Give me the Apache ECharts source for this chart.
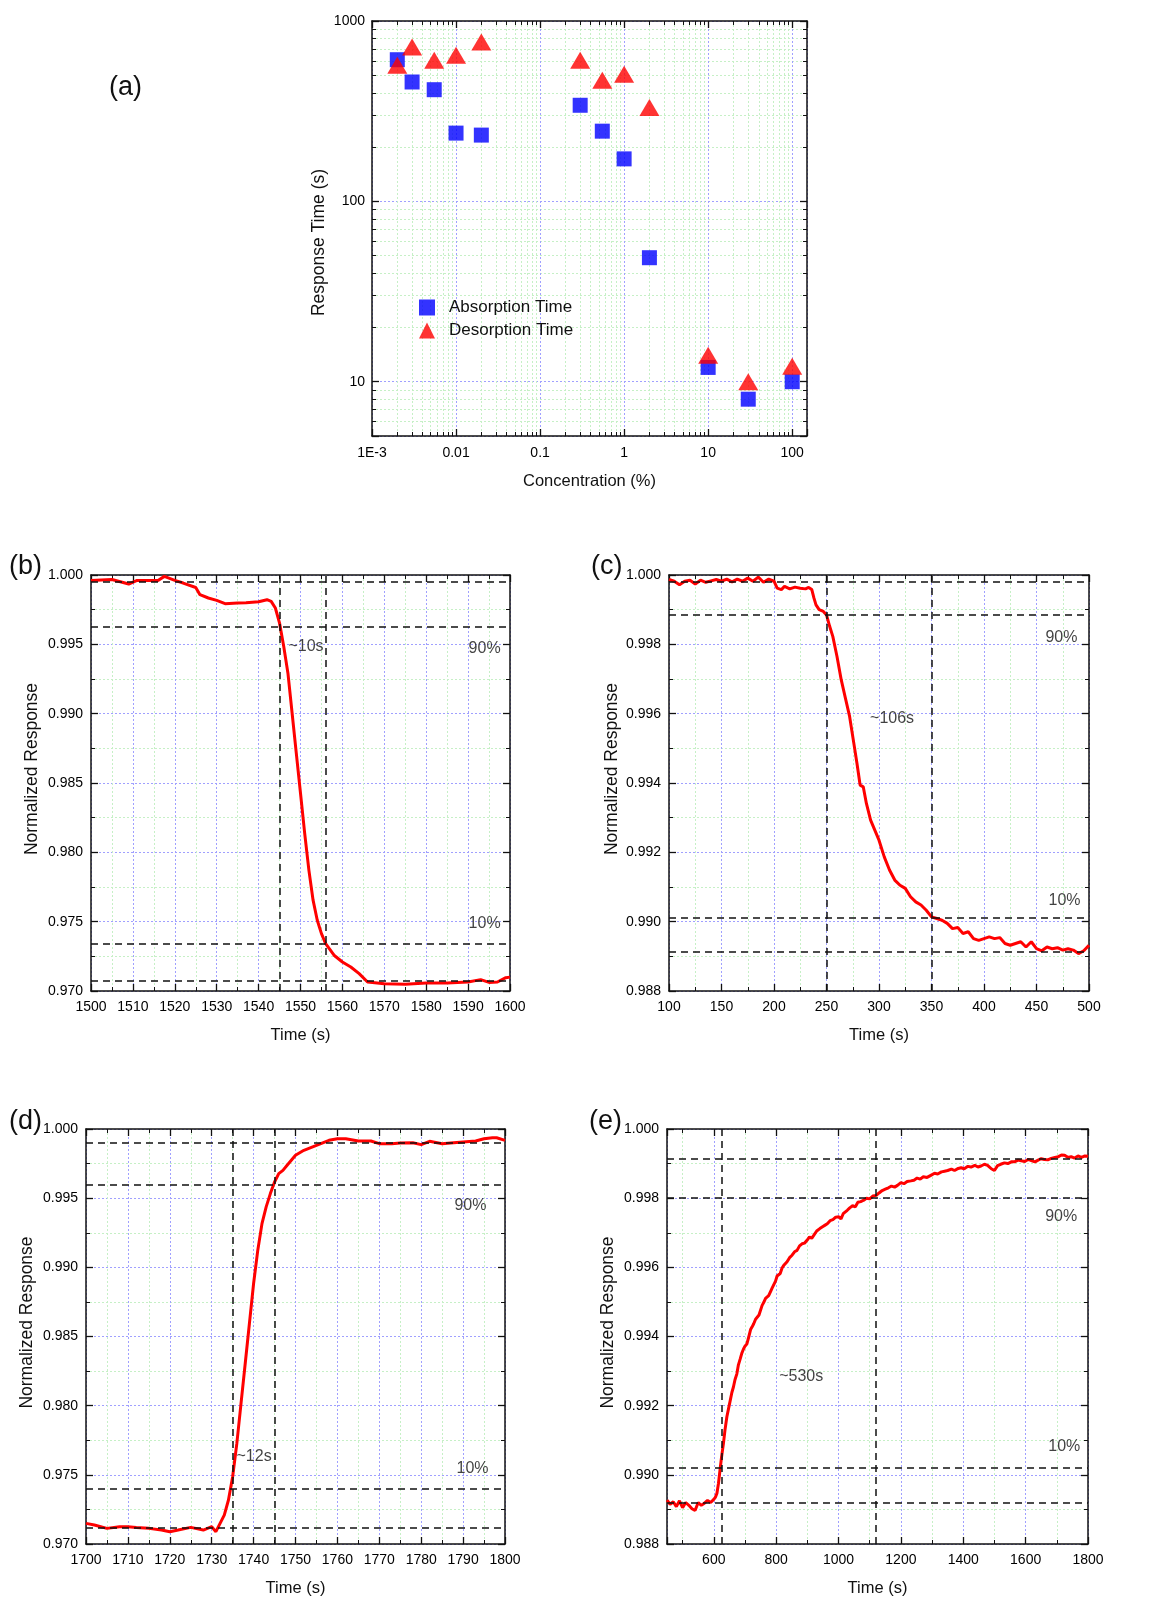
<!DOCTYPE html>
<html><head><meta charset="utf-8">
<script src="https://cdn.jsdelivr.net/npm/echarts@6/dist/echarts.min.js"></script>
<style>html,body{margin:0;padding:0;background:#fff}#c{width:1158px;height:1599px}</style>
</head><body><div id="c"></div>
<script>
// ---------- Panel (a) data ----------
const concX = [0.002, 0.003, 0.0055, 0.01, 0.02, 0.3, 0.55, 1, 2, 10, 30, 100];
const absorptionTime = [610, 459, 416, 239, 233, 341, 245, 172, 48.7, 12, 8, 10];
const desorptionTime = [568, 717, 605, 645, 765, 605, 469, 506, 331, 14, 10, 12.2];
const aXDecades = [-3, -2, -1, 0, 1, 2];
const aXLabels = ['1E-3', '0.01', '0.1', '1', '10', '100'];
const aYDecades = [1, 2, 3];
const aYLabels = ['10', '100', '1000'];

// ---------- Panel (b) data ----------
const bTime = [1500,1505,1509,1511,1516,1517.5,1520,1522,1525,1526,1528,1530,1532,1535,1537,1540,1542,1543,1544,1545,1546,1547,1548,1549,1550,1551,1552,1553,1554,1555,1556,1558,1560,1562,1564,1566,1570,1575,1580,1585,1590,1593,1595,1597,1599,1600];
const bResp = [0.99961,0.99968,0.99935,0.99961,0.99961,0.9999,0.99961,0.99942,0.9991,0.99858,0.99834,0.99817,0.99793,0.99798,0.998,0.99807,0.99822,0.9981,0.99762,0.99653,0.99485,0.99292,0.99003,0.98714,0.98426,0.98137,0.97872,0.97655,0.9751,0.97414,0.97342,0.97258,0.97209,0.97173,0.97125,0.97065,0.97053,0.97048,0.97058,0.97058,0.97065,0.97082,0.97062,0.97065,0.97096,0.971];
const bHLines = [0.99952, 0.99629, 0.97342, 0.97077];
const bVLines = [1545, 1556];
const bNotes = [['~10s', 1547, 0.99485], ['90%', 1590, 0.9947], ['10%', 1590, 0.97486]];

// ---------- Panel (c) data ----------
const cTime = [100,105,110,115,120,125,130,135,140,145,150,155,160,165,170,175,180,185,190,195,200,203,207,210,215,220,225,230,233,236,238,240,243,247,250,253,256,260,264,268,272,276,279,282,285,288,292,296,300,305,310,315,320,325,330,335,340,345,350,355,360,365,370,375,380,385,390,395,400,405,410,415,420,425,430,435,440,445,450,455,460,465,470,475,480,485,490,495,500];
const cResp = [0.99987,0.99982,0.99972,0.99982,0.99985,0.99974,0.99985,0.99979,0.99983,0.99987,0.99982,0.99988,0.9998,0.99988,0.99982,0.99991,0.99982,0.99994,0.99979,0.99988,0.99982,0.99962,0.99958,0.99967,0.9996,0.99965,0.99962,0.9996,0.99964,0.99958,0.99934,0.99914,0.999,0.99895,0.99885,0.99852,0.99823,0.99765,0.99698,0.99645,0.99592,0.99515,0.99457,0.99394,0.99389,0.99341,0.99293,0.99264,0.99235,0.99187,0.99149,0.9912,0.99105,0.99096,0.99072,0.99057,0.99048,0.99033,0.99014,0.99009,0.99004,0.98995,0.9898,0.98983,0.98966,0.98971,0.98951,0.98946,0.98951,0.98956,0.98951,0.98954,0.98937,0.98932,0.98937,0.98942,0.98927,0.98942,0.98922,0.98916,0.98927,0.98922,0.98925,0.98918,0.98922,0.98918,0.98908,0.98916,0.98932];
const cHLines = [0.99981, 0.99884, 0.99011, 0.98912];
const cVLines = [250, 350];
const cNotes = [['~106s', 291, 0.99587], ['90%', 458, 0.99818], ['10%', 461, 0.99062]];

// ---------- Panel (d) data ----------
const dTime = [1700,1702,1705,1708,1710,1712,1715,1718,1720,1722,1725,1728,1730,1731,1732,1733,1734,1735,1736,1737,1738,1739,1740,1741,1742,1743,1744,1745,1746,1747,1748,1749,1750,1752,1755,1758,1760,1762,1765,1768,1770,1773,1775,1778,1780,1782,1785,1787,1790,1793,1795,1797,1798,1800];
const dResp = [0.97149,0.97137,0.97113,0.97125,0.97125,0.9712,0.97113,0.97101,0.97089,0.97101,0.9712,0.97101,0.97125,0.97089,0.97149,0.97209,0.97318,0.97486,0.97727,0.98016,0.98305,0.98594,0.98883,0.99124,0.99316,0.99437,0.99533,0.99617,0.99677,0.99701,0.99738,0.99774,0.9981,0.99846,0.99882,0.99918,0.9993,0.9993,0.99913,0.99913,0.99894,0.99894,0.99899,0.99901,0.99887,0.99911,0.99894,0.99899,0.99906,0.99913,0.9993,0.99937,0.99937,0.99918];
const dHLines = [0.99901, 0.99595, 0.97402, 0.97118];
const dVLines = [1735, 1745];
const dNotes = [['~12s', 1735.8, 0.97631], ['90%', 1787.8, 0.99449], ['10%', 1788.3, 0.97546]];

// ---------- Panel (e) data ----------
const eTime = [450,460,470,480,490,500,510,520,530,540,550,560,570,580,590,600,605,610,615,620,625,631,636,642,647,653,658,663,668,674,679,685,690,695,700,706,712,718,723,728,734,740,745,749,755,760,766,771,776,782,787,792,798,803,808,813,819,824,830,835,843,851,859,867,875,883,891,899,907,914,921,930,940,950,957,964,973,982,991,1001,1008,1015,1021,1028,1036,1045,1054,1062,1071,1081,1090,1100,1110,1121,1130,1140,1150,1160,1170,1180,1189,1200,1210,1220,1232,1242,1252,1262,1272,1284,1296,1308,1318,1330,1340,1350,1362,1372,1384,1393,1403,1415,1425,1437,1447,1457,1468,1478,1490,1500,1510,1520,1532,1543,1554,1564,1576,1586,1597,1608,1618,1630,1640,1650,1660,1671,1682,1694,1705,1715,1725,1735,1746,1757,1768,1779,1790,1800];
const eResp = [0.98927,0.98915,0.98922,0.98908,0.98925,0.98905,0.9892,0.98912,0.98902,0.98897,0.9892,0.98912,0.98918,0.98926,0.9892,0.98929,0.98935,0.98946,0.98975,0.99014,0.99052,0.99091,0.9913,0.99168,0.9919,0.99216,0.99238,0.99254,0.99275,0.99292,0.99318,0.99336,0.99352,0.99363,0.99372,0.99378,0.99398,0.9942,0.99428,0.99437,0.9945,0.99448,0.99462,0.99466,0.9949,0.99498,0.9951,0.99514,0.99518,0.9953,0.9954,0.99543,0.9956,0.99575,0.9957,0.99582,0.99598,0.99605,0.9961,0.99616,0.99628,0.99635,0.99645,0.99649,0.99662,0.99668,0.9967,0.99678,0.99688,0.99684,0.99693,0.99705,0.99712,0.99718,0.99722,0.99726,0.99735,0.99738,0.99745,0.99746,0.9974,0.99755,0.9976,0.99765,0.99772,0.99778,0.99775,0.99788,0.9979,0.99794,0.998,0.99798,0.99806,0.99808,0.99815,0.99822,0.99826,0.9983,0.99835,0.99832,0.99837,0.99845,0.99842,0.99848,0.9985,0.99852,0.99858,0.99855,0.99862,0.9986,0.99866,0.99872,0.9987,0.99876,0.99878,0.9988,0.99884,0.9988,0.99886,0.99888,0.99885,0.99892,0.9989,0.99895,0.9989,0.99893,0.99898,0.99895,0.99885,0.9988,0.99894,0.99898,0.99902,0.999,0.99905,0.99905,0.9991,0.99908,0.99906,0.99912,0.99909,0.99905,0.9991,0.99914,0.99912,0.99911,0.99915,0.99918,0.9992,0.99925,0.99924,0.99918,0.9992,0.99916,0.99922,0.99918,0.99922,0.99921];
const eHLines = [0.99914, 0.99802, 0.99021, 0.98919];
const eVLines = [625, 1120];
const eNotes = [['~530s', 808, 0.99283], ['90%', 1661, 0.99746], ['10%', 1671, 0.99083]];

// ---------- build ----------
const FONT = '"Liberation Sans", Arial, sans-serif';
const INK = '#111';
const zip = (a, b) => a.map((v, i) => [v, b[i]]);

const grids = [
  {left: 372, top: 21, width: 435, height: 415},
  {left: 91, top: 575, width: 419, height: 416},
  {left: 669, top: 575, width: 420, height: 416},
  {left: 86, top: 1129, width: 419, height: 415},
  {left: 667, top: 1129, width: 421, height: 415}
];

const xAxes = [], yAxes = [], series = [];

function baseAxis(extra) {
  return Object.assign({
    axisLine: {show: true, onZero: false, lineStyle: {color: INK, width: 1.5}},
    axisTick: {show: true, inside: true, length: 7, lineStyle: {color: INK, width: 1.3}},
    minorTick: {show: true, length: 4, lineStyle: {color: INK, width: 1}},
    axisLabel: {show: false},
    splitLine: {show: false},
    minorSplitLine: {show: false}
  }, extra);
}
const majorGrid = {show: true, lineStyle: {color: '#a0a0ff', type: [2, 2], width: 1}};
const minorGrid = {show: true, lineStyle: {color: '#c6f0c6', type: [2, 2], width: 1}};
const xNameStyle = {fontSize: 16.5, color: INK, fontFamily: FONT};
const yNameStyle = {fontSize: 17.5, color: INK, fontFamily: FONT, padding: [0, 0, 0, 28]};
const yNameStyleA = {fontSize: 17.5, color: INK, fontFamily: FONT, padding: [0, 28, 0, 0]};
const tickText = {fontSize: 14, color: '#000', fontFamily: FONT};

// Panel (a)
function decadeLabel(v, decs, labels) {
  const l = Math.log10(v), e = Math.round(l);
  if (Math.abs(l - e) > 1e-6) return '';
  const i = decs.indexOf(e);
  return i >= 0 ? labels[i] : '';
}
const logMinor = {show: true, splitNumber: 9, length: 4, lineStyle: {color: INK, width: 1}};
xAxes.push(baseAxis({
  gridIndex: 0, type: 'log', logBase: 10, min: 0.001, max: 150, position: 'bottom',
  minorTick: logMinor,
  name: 'Concentration (%)', nameLocation: 'middle', nameGap: 37, nameTextStyle: xNameStyle,
  axisLabel: Object.assign({show: true, margin: 10,
    formatter: v => decadeLabel(v, aXDecades, aXLabels)}, tickText),
  splitLine: majorGrid, minorSplitLine: minorGrid
}));
xAxes.push(baseAxis({gridIndex: 0, type: 'log', logBase: 10, min: 0.001, max: 150, position: 'top', minorTick: logMinor}));
yAxes.push(baseAxis({
  gridIndex: 0, type: 'log', logBase: 10, min: 5, max: 1000, position: 'left',
  minorTick: logMinor,
  name: 'Response Time (s)', nameLocation: 'middle', nameGap: 44, nameTextStyle: yNameStyleA,
  axisLabel: Object.assign({show: true, margin: 7,
    formatter: v => decadeLabel(v, aYDecades, aYLabels)}, tickText),
  splitLine: majorGrid, minorSplitLine: minorGrid
}));
yAxes.push(baseAxis({gridIndex: 0, type: 'log', logBase: 10, min: 5, max: 1000, position: 'right', minorTick: logMinor}));

series.push({
  name: 'Absorption Time', type: 'scatter', xAxisIndex: 0, yAxisIndex: 0,
  symbol: 'rect', symbolSize: 15, itemStyle: {color: '#0000ff'},
  data: zip(concX, absorptionTime), z: 3
});
series.push({
  name: 'Desorption Time', type: 'scatter', xAxisIndex: 0, yAxisIndex: 0,
  symbol: 'triangle', symbolSize: [20, 17], itemStyle: {color: '#ff0000'},
  data: zip(concX, desorptionTime), z: 4
});

// Linear panels
const panels = [
  {t: bTime, r: bResp, h: bHLines, v: bVLines, notes: bNotes, xmin: 1500, xmax: 1600, xint: 10, ymin: 0.970, ymax: 1.000, yint: 0.005, gap: 50},
  {t: cTime, r: cResp, h: cHLines, v: cVLines, notes: cNotes, xmin: 100, xmax: 500, xint: 50, ymin: 0.988, ymax: 1.000, yint: 0.002, gap: 48},
  {t: dTime, r: dResp, h: dHLines, v: dVLines, notes: dNotes, xmin: 1700, xmax: 1800, xint: 10, ymin: 0.970, ymax: 1.000, yint: 0.005, gap: 50},
  {t: eTime, r: eResp, h: eHLines, v: eVLines, notes: eNotes, xmin: 450, xmax: 1800, xint: 200, ymin: 0.988, ymax: 1.000, yint: 0.002, gap: 50, niceX: true}
];

panels.forEach((p, k) => {
  const g = k + 1;
  const xr = p.niceX
    ? {min: p.xmin, max: p.xmax, minInterval: p.xint, maxInterval: p.xint, splitNumber: 7}
    : {min: p.xmin, max: p.xmax, interval: p.xint};
  const yr = {min: p.ymin, max: p.ymax, interval: p.yint};
  const linMinor = {show: true, splitNumber: 2, length: 4, lineStyle: {color: INK, width: 1}};
  xAxes.push(baseAxis(Object.assign({
    gridIndex: g, type: 'value', position: 'bottom', minorTick: linMinor,
    name: 'Time (s)', nameLocation: 'middle', nameGap: 36, nameTextStyle: xNameStyle,
    axisLabel: Object.assign({show: true, margin: 9,
      showMinLabel: !p.niceX, formatter: v => String(Math.round(v))}, tickText),
    splitLine: majorGrid, minorSplitLine: minorGrid
  }, xr)));
  xAxes.push(baseAxis(Object.assign({gridIndex: g, type: 'value', position: 'top', minorTick: linMinor}, xr)));
  yAxes.push(baseAxis(Object.assign({
    gridIndex: g, type: 'value', position: 'left', minorTick: linMinor,
    name: 'Normalized Response', nameLocation: 'middle', nameGap: p.gap, nameTextStyle: yNameStyle,
    axisLabel: Object.assign({show: true, margin: 8, formatter: v => v.toFixed(3)}, tickText),
    splitLine: majorGrid, minorSplitLine: minorGrid
  }, yr)));
  yAxes.push(baseAxis(Object.assign({gridIndex: g, type: 'value', position: 'right', minorTick: linMinor}, yr)));

  const xi = 2 * g, yi = 2 * g;
  series.push({
    name: 'curve' + g, type: 'line', xAxisIndex: xi, yAxisIndex: yi,
    data: zip(p.t, p.r), showSymbol: false, symbol: 'none',
    lineStyle: {color: '#ff0000', width: 3}, z: 3, silent: true,
    markLine: {
      silent: true, symbol: 'none', precision: 6, label: {show: false},
      lineStyle: {color: '#111', type: [7, 5], width: 1.5},
      data: p.h.map(v => ({yAxis: v})).concat(p.v.map(v => ({xAxis: v})))
    }
  });
  series.push({
    name: 'notes' + g, type: 'scatter', xAxisIndex: xi, yAxisIndex: yi,
    symbolSize: 1, itemStyle: {color: 'rgba(0,0,0,0)'}, silent: true, z: 5,
    data: p.notes.map(n => [n[1], n[2], n[0]]),
    label: {show: true, position: 'right', distance: 0, fontSize: 16, color: '#111',
      fontFamily: FONT, formatter: q => q.data[2]}
  });
});

const letters = [['(a)', 109, 74], ['(b)', 9, 553], ['(c)', 591, 553], ['(d)', 9, 1108], ['(e)', 589, 1108]];

const chart = echarts.init(document.getElementById('c'), null, {renderer: 'canvas'});
chart.setOption({
  backgroundColor: '#fff',
  animation: false,
  textStyle: {fontFamily: FONT},
  grid: grids,
  xAxis: xAxes,
  yAxis: yAxes,
  legend: {
    data: ['Absorption Time', 'Desorption Time'],
    orient: 'vertical', left: 414, top: 294, itemGap: 6,
    itemWidth: 16, itemHeight: 16,
    textStyle: {fontSize: 17, color: '#111', fontFamily: FONT, padding: [0, 0, 0, 9]},
    selectedMode: false
  },
  graphic: letters.map(l => ({
    type: 'text', left: l[1], top: l[2],
    style: {text: l[0], fontSize: 27, fill: '#111', fontFamily: FONT}
  })),
  series: series
});
</script>
</body></html>
